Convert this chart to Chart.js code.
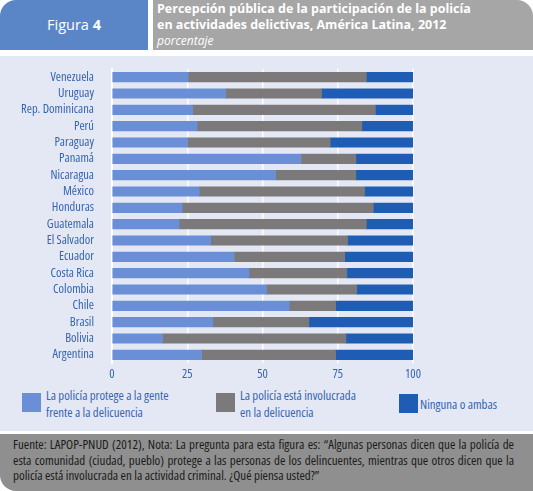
<!DOCTYPE html>
<html>
<head>
<meta charset="utf-8">
<script src="https://cdn.jsdelivr.net/npm/chart.js@4/dist/chart.umd.min.js"></script>
<style>
  html, body { margin:0; padding:0; background:#ffffff; }
  body { width:533px; height:491px; position:relative; overflow:hidden; }
  #tab { position:absolute; left:0; top:0; width:148px; height:50px; background:#5a86c8; border-top-left-radius:16px;
         color:#fff; font-family:"Open Sans", sans-serif; font-size:14.5px; line-height:50px; text-align:center; }
  #tab b { font-weight:700; }
  #title { position:absolute; left:153px; top:0; width:380px; height:50px; background:#a6a6a6; border-top-right-radius:16px;
           color:#fff; font-family:"Open Sans", sans-serif; box-sizing:border-box; padding-left:4px; padding-top:1px; }
  #title .t { font-weight:700; font-size:12.5px; line-height:16.2px; }
  #title .s { font-style:italic; font-size:12px; line-height:16.2px; }
  #panel { position:absolute; left:0; top:56px; width:533px; height:375px; background:#e4e8f5; }
  #chartwrap { position:absolute; left:0; top:56px; width:533px; height:330px; }
  .leg { position:absolute; font-family:"Open Sans", sans-serif; font-stretch:condensed; font-size:12.8px; color:#3565b0; line-height:16.5px; white-space:nowrap; }
  .sq { position:absolute; width:19px; height:19px; }
  #foot { position:absolute; left:0; top:434px; width:533px; height:57px; background:#8f8f8f; border-bottom-left-radius:16px;
          box-sizing:border-box; padding:3px 19px 0 13px; font-family:"Open Sans", sans-serif; font-stretch:condensed;
          font-size:13px; line-height:15.5px; color:#1b1b1b; text-align:justify; }
</style>
</head>
<body>
<div id="tab">Figura <b>4</b></div>
<div id="title"><div class="t">Percepción pública de la participación de la policía<br>en actividades delictivas, América Latina, 2012</div><div class="s">porcentaje</div></div>
<div id="panel"></div>
<div id="chartwrap"><canvas id="c" width="533" height="330"></canvas></div>

<div class="sq" style="left:22px;top:393px;background:#6a8fd6"></div>
<div class="leg" style="left:46px;top:387px">La policía protege a la gente<br>frente a la delicuencia</div>
<div class="sq" style="left:216px;top:393px;background:#7b7979"></div>
<div class="leg" style="left:240px;top:387px">La policía está involucrada<br>en la delicuencia</div>
<div class="sq" style="left:399px;top:394px;background:#1f5db5"></div>
<div class="leg" style="left:420px;top:396px">Ninguna o ambas</div>

<div id="foot">Fuente: LAPOP-PNUD (2012), Nota: La pregunta para esta figura es: “Algunas personas dicen que la policía de esta comunidad (ciudad, pueblo) protege a las personas de los delincuentes, mientras que otros dicen que la policía está involucrada en la actividad criminal. ¿Qué piensa usted?”</div>

<script>
const categories = ["Venezuela","Uruguay","Rep. Dominicana","Perú","Paraguay","Panamá","Nicaragua","México","Honduras","Guatemala","El Salvador","Ecuador","Costa Rica","Colombia","Chile","Brasil","Bolivia","Argentina"];
const protege    = [25.3, 37.7, 26.8, 28.3, 25.1, 62.8, 54.4, 29.0, 23.3, 22.3, 32.8, 40.6, 45.5, 51.3, 58.9, 33.5, 16.8, 29.8];
const involucrada= [59.2, 31.9, 60.7, 54.7, 47.4, 18.2, 26.6, 54.9, 63.5, 62.2, 45.5, 36.7, 32.5, 30.0, 15.4, 31.9, 60.9, 44.5];
const ninguna    = [15.5, 30.4, 12.5, 17.0, 27.5, 19.0, 19.0, 16.1, 13.2, 15.5, 21.7, 22.7, 22.0, 18.7, 25.7, 34.6, 22.3, 25.7];
const seriesNames = ["La policía protege a la gente frente a la delicuencia","La policía está involucrada en la delicuencia","Ninguna o ambas"];
const xTicks = [0, 25, 50, 75, 100];

const labelFont = { family: "'Open Sans', sans-serif", size: 12.5, weight: 'condensed' };

new Chart(document.getElementById('c'), {
  type: 'bar',
  data: {
    labels: categories,
    datasets: [
      { label: seriesNames[0], data: protege, backgroundColor: '#6a8fd6' },
      { label: seriesNames[1], data: involucrada, backgroundColor: '#7b7979' },
      { label: seriesNames[2], data: ninguna, backgroundColor: '#1f5db5' }
    ]
  },
  options: {
    indexAxis: 'y',
    responsive: false,
    animation: false,
    devicePixelRatio: 1,
    layout: { padding: { top: 13, right: 120, left: 0, bottom: 0 } },
    datasets: { bar: { barThickness: 9.5 } },
    plugins: { legend: { display: false }, tooltip: { enabled: false } },
    scales: {
      x: {
        stacked: true, min: 0, max: 100,
        afterBuildTicks: (s) => { s.ticks = xTicks.map(v => ({ value: v })); },
        afterFit: (s) => { s.height = 23; s.paddingLeft = 0; s.paddingRight = 0; },
        grid: { color: '#ffffff', lineWidth: 1.5, drawTicks: false },
        border: { display: false },
        ticks: { color: '#3565b0', font: labelFont, padding: 4 }
      },
      y: {
        stacked: true,
        afterFit: (s) => { s.width = 112; s.paddingTop = 0; s.paddingBottom = 0; },
        grid: { display: false, drawTicks: false },
        border: { display: true, color: '#ffffff', width: 2 },
        ticks: { color: '#3565b0', font: labelFont, padding: 18, autoSkip: false }
      }
    }
  }
});
</script>
</body>
</html>
